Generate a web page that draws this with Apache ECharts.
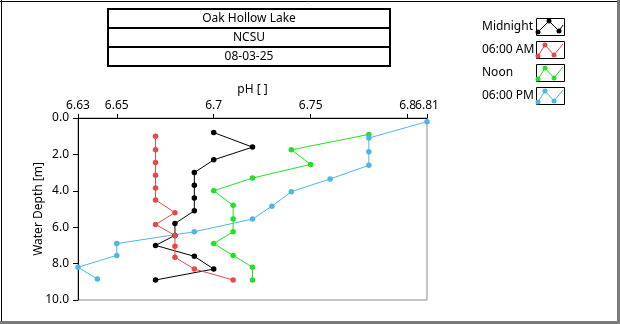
<!DOCTYPE html>
<html>
<head>
<meta charset="utf-8">
<style>
  html, body { margin: 0; padding: 0; background: #fff; }
  #chart { width: 620px; height: 324px; }
</style>
<script src="https://cdn.jsdelivr.net/npm/echarts@6/dist/echarts.min.js"></script>
</head>
<body>
<div id="chart"></div>
<script>
// Depth profiles of pH at four times of day
const seriesNames = ['Midnight', '06:00 AM', 'Noon', '06:00 PM'];
const seriesColors = ['#000000', '#e84848', '#22e022', '#4cb6e8'];

const depthMidnight = [0.8, 1.6, 2.3, 3.0, 3.7, 4.4, 5.1, 5.8, 6.45, 7.0, 7.6, 8.3, 8.9];
const phMidnight    = [6.70, 6.72, 6.70, 6.69, 6.69, 6.69, 6.69, 6.68, 6.68, 6.67, 6.69, 6.70, 6.67];

const depthAM = [1.0, 1.75, 2.45, 3.15, 3.85, 4.5, 5.2, 5.85, 6.45, 7.05, 7.65, 8.3, 8.9];
const phAM    = [6.67, 6.67, 6.67, 6.67, 6.67, 6.67, 6.68, 6.67, 6.68, 6.68, 6.68, 6.69, 6.71];

const depthNoon = [0.9, 1.75, 2.55, 3.3, 4.0, 4.8, 5.55, 6.25, 6.9, 7.55, 8.2, 8.9];
const phNoon    = [6.78, 6.74, 6.75, 6.72, 6.70, 6.71, 6.71, 6.71, 6.70, 6.71, 6.72, 6.72];

const depthPM = [0.2, 1.1, 1.85, 2.6, 3.35, 4.05, 4.85, 5.55, 6.25, 6.9, 7.55, 8.2, 8.85];
const phPM    = [6.81, 6.78, 6.78, 6.78, 6.76, 6.74, 6.73, 6.72, 6.69, 6.65, 6.65, 6.63, 6.64];

// pH ticks; the 6.8 tick sits on its own axis so its label is not dropped next to 6.81
const phTicksMain = [6.63, 6.65, 6.7, 6.75, 6.81];
const phTicksExtra = [6.8];
const titleLines = ['Oak Hollow Lake', 'NCSU', '08-03-25'];

const FONT = 'Noto Sans';
const PH_MIN = 6.63;
const PH_MAX = 6.81;

const profiles = [
  [phMidnight, depthMidnight],
  [phAM, depthAM],
  [phNoon, depthNoon],
  [phPM, depthPM]
];

const series = profiles.map(function (p, i) {
  return {
    name: seriesNames[i],
    type: 'line',
    xAxisIndex: 0,
    data: p[0].map(function (ph, k) { return [ph, p[1][k]]; }),
    symbol: 'circle',
    symbolSize: 5.5,
    color: seriesColors[i],
    lineStyle: { width: 1, color: seriesColors[i] },
    itemStyle: { color: seriesColors[i] },
    emphasis: { disabled: true },
    animation: false,
    z: 3
  };
});

// Stacked title boxes
const graphics = [];
titleLines.forEach(function (t, i) {
  const y = 9 + i * 19;
  graphics.push({
    type: 'rect',
    shape: { x: 108, y: y, width: 282, height: 19 },
    style: { fill: '#fff', stroke: '#000', lineWidth: 2 }
  });
  graphics.push({
    type: 'text',
    x: 249, y: y + 10,
    style: { text: t, font: '12px "' + FONT + '"', fill: '#000', align: 'center', verticalAlign: 'middle' }
  });
});

// Key: label on the left, swatch box on the right
const swatchPts = [
  [[2, 14], [13, 3], [23, 13], [27, 7]],
  [[2, 15], [9, 4], [18, 14], [27, 3]],
  [[2, 15], [9, 4], [18, 14], [27, 3]],
  [[2, 15], [9, 4], [18, 14], [27, 3]]
];
seriesNames.forEach(function (name, i) {
  const by = 18 + i * 23;
  const bx = 536;
  graphics.push({
    type: 'text',
    x: 482, y: by + 9,
    style: { text: name, font: '12px "' + FONT + '"', fill: '#000', align: 'left', verticalAlign: 'middle' }
  });
  graphics.push({
    type: 'rect',
    shape: { x: bx + 0.5, y: by + 0.5, width: 28, height: 17 },
    style: { fill: '#fff', stroke: '#000', lineWidth: 1 }
  });
  const pts = swatchPts[i].map(function (q) { return [bx + q[0], by + q[1]]; });
  graphics.push({
    type: 'polyline',
    shape: { points: pts },
    style: { stroke: seriesColors[i], lineWidth: 1, fill: null }
  });
  for (let k = 0; k < 3; k++) {
    graphics.push({
      type: 'circle',
      shape: { cx: pts[k][0], cy: pts[k][1], r: 2.5 },
      style: { fill: seriesColors[i] }
    });
  }
});

// Outer frame
graphics.push({ type: 'line', shape: { x1: 1.5, y1: 0, x2: 1.5, y2: 321 }, style: { stroke: '#000', lineWidth: 1 } });
graphics.push({ type: 'line', shape: { x1: 0, y1: 1.5, x2: 617, y2: 1.5 }, style: { stroke: '#000', lineWidth: 1 } });
graphics.push({ type: 'rect', shape: { x: 617, y: 0, width: 3, height: 324 }, style: { fill: '#7a7a7a' } });
graphics.push({ type: 'rect', shape: { x: 0, y: 321, width: 620, height: 3 }, style: { fill: '#7a7a7a' } });

function phLabel(v) { return String(+(+v).toFixed(2)); }

const chart = echarts.init(document.getElementById('chart'), null, { renderer: 'canvas' });
chart.setOption({
  backgroundColor: '#fff',
  animation: false,
  textStyle: { fontFamily: FONT },
  grid: {
    left: 78, top: 118, width: 349, height: 182,
    show: true, borderColor: '#8a8a8a', borderWidth: 1, backgroundColor: '#fff'
  },
  xAxis: [{
    type: 'value',
    position: 'top',
    min: PH_MIN,
    max: PH_MAX,
    name: 'pH [ ]',
    nameLocation: 'middle',
    nameGap: 22,
    nameTextStyle: { fontSize: 12, color: '#000', fontFamily: FONT },
    axisLine: { show: true, lineStyle: { color: '#000', width: 1 } },
    axisTick: { show: true, length: 4, lineStyle: { color: '#000' }, customValues: phTicksMain },
    axisLabel: {
      show: true, fontSize: 12, color: '#000', margin: 6, fontFamily: FONT,
      customValues: phTicksMain,
      showMinLabel: true,
      showMaxLabel: true,
      hideOverlap: false,
      formatter: phLabel
    },
    splitLine: { show: false }
  }, {
    type: 'value',
    position: 'top',
    min: PH_MIN,
    max: PH_MAX,
    axisLine: { show: false },
    axisTick: { show: true, length: 4, lineStyle: { color: '#000' }, customValues: phTicksExtra },
    axisLabel: {
      show: true, fontSize: 12, color: '#000', margin: 6, fontFamily: FONT,
      customValues: phTicksExtra,
      hideOverlap: false,
      formatter: phLabel
    },
    splitLine: { show: false }
  }],
  yAxis: {
    type: 'value',
    inverse: true,
    min: 0,
    max: 10,
    interval: 2,
    name: 'Water Depth [m]',
    nameLocation: 'middle',
    nameGap: 33,
    nameMoveOverlap: false,
    nameRotate: 90,
    nameTextStyle: { fontSize: 12, color: '#000', fontFamily: FONT },
    axisLine: { show: true, lineStyle: { color: '#000', width: 1 } },
    axisTick: { show: true, length: 5, lineStyle: { color: '#000' } },
    axisLabel: {
      fontSize: 12, color: '#000', margin: 9, fontFamily: FONT,
      formatter: function (v) { return v.toFixed(1); }
    },
    splitLine: { show: false }
  },
  series: series,
  graphic: graphics
});
</script>
</body>
</html>
